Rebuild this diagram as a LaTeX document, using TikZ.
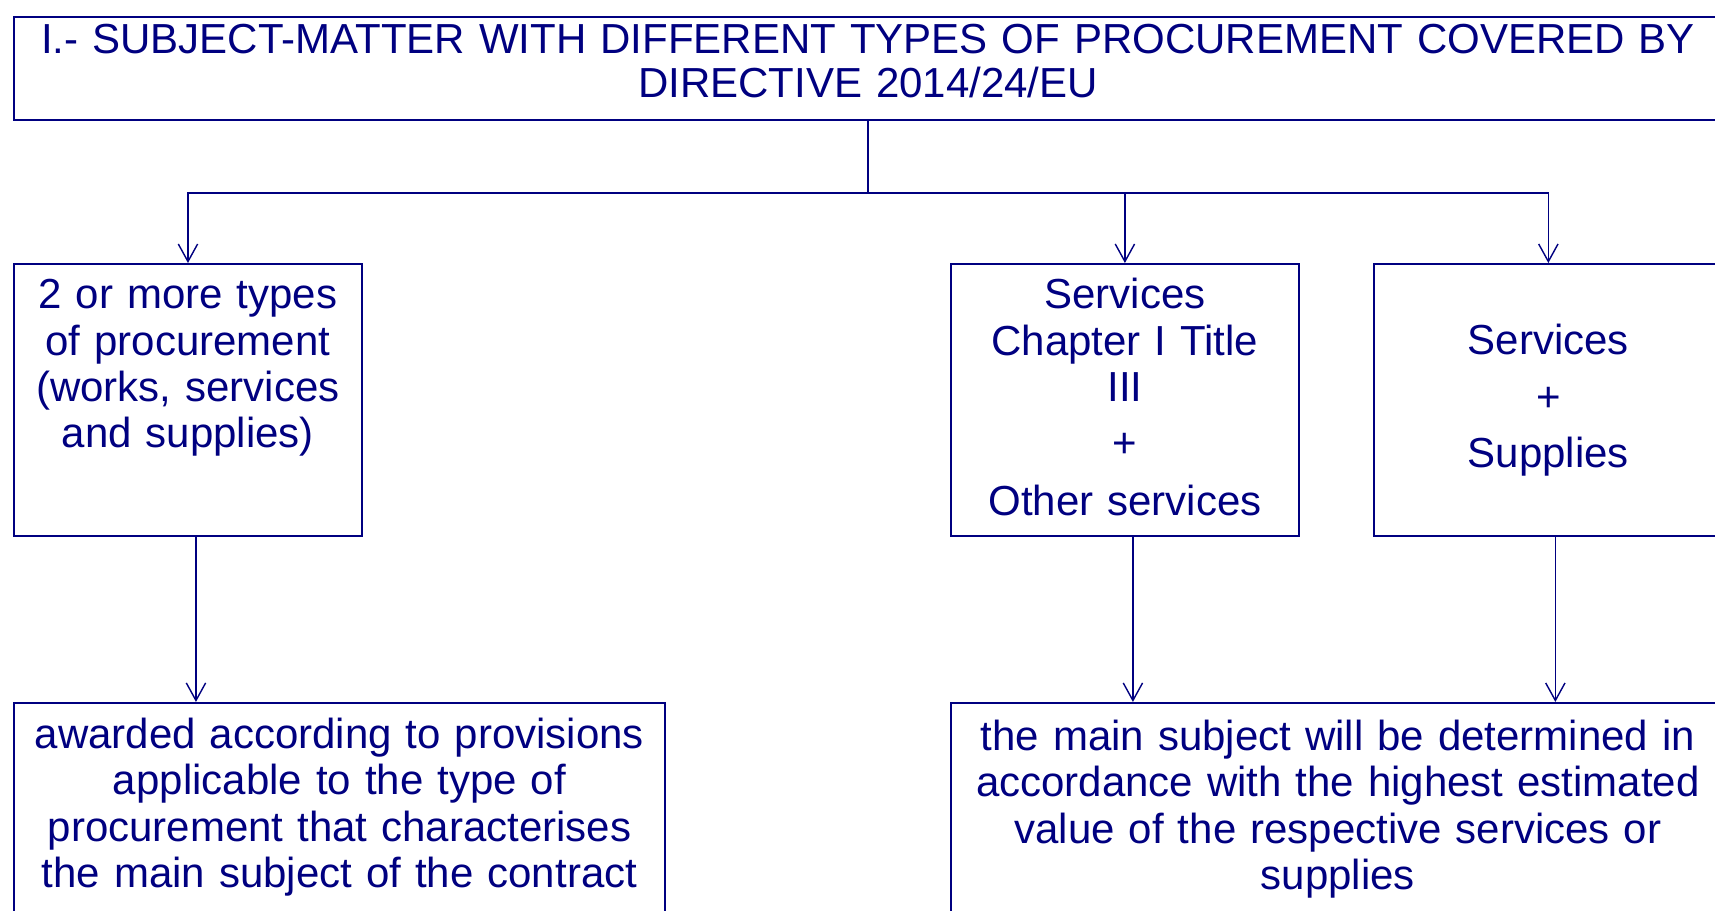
\documentclass[tikz,border=0pt]{standalone}
\usepackage{fontspec}
\setmainfont{Liberation Sans}
\usetikzlibrary{positioning,arrows.meta}
\definecolor{navy}{RGB}{0,0,128}

\begin{document}
\begin{tikzpicture}[
    font=\fontsize{23.9}{26.2}\selectfont,
    box/.style={rectangle, draw=navy, line width=1.1pt, text=navy, align=center, inner sep=0pt, anchor=north west},
    line/.style={draw=navy, line width=0.8pt},
    arrow/.style={line, -{Straight Barb[length=10pt,width=11pt]}}
]
\useasboundingbox (0,0) rectangle (34.3,-18.2);

% Heading
\node[box, text width=34.16cm, text height=0.74cm, text depth=1.32cm,
      font=\fontsize{23.9}{25}\selectfont] (title) at (0.26,-0.32)
    {I.- SUBJECT-MATTER WITH DIFFERENT TYPES OF PROCUREMENT COVERED BY\\DIRECTIVE 2014/24/EU};

% Types of procurement
\node[box, text width=6.96cm, text height=0.9cm, text depth=4.54cm] (mixed) at (0.26,-5.26)
    {2 or more types\\of procurement\\(works, services\\and supplies)};
\node[box, text width=6.96cm, text height=0.9cm, text depth=4.54cm, right=11.74cm of mixed] (services)
    {Services\\Chapter I Title\\III\\[5.7pt]+\\[6.8pt]Other services};
\node[box, text width=6.96cm, text height=1.82cm, text depth=3.62cm, right=1.47cm of services] (supplies)
    {Services\\[5.7pt]+\\[5.7pt]Supplies};

% Rules that apply
\node[box, text width=13.02cm, text height=0.92cm, text depth=5cm, below=3.3cm of mixed.south west, anchor=north west] (award)
    {awarded according to provisions\\applicable to the type of\\procurement that characterises\\the main subject of the contract};
\node[box, text width=15.48cm, text height=0.96cm, text depth=5cm, below=3.3cm of services.south west, anchor=north west] (value)
    {the main subject will be determined in\\accordance with the highest estimated\\value of the respective services or\\supplies};

% Arrows
\coordinate (split) at ([yshift=-1.44cm]title.south);
\draw[line] (title.south) -- (split);
\draw[arrow] (split) -| (mixed.north);
\draw[arrow] (split) -| (services.north);
\draw[arrow] (split) -| (supplies.north);
\draw[arrow] ([xshift=0.16cm]mixed.south) -- ([xshift=0.16cm]mixed.south |- award.north);
\draw[arrow] ([xshift=0.16cm]services.south) -- ([xshift=0.16cm]services.south |- value.north);
\draw[arrow] ([xshift=0.14cm]supplies.south) -- ([xshift=0.14cm]supplies.south |- value.north);

\end{tikzpicture}
\end{document}
